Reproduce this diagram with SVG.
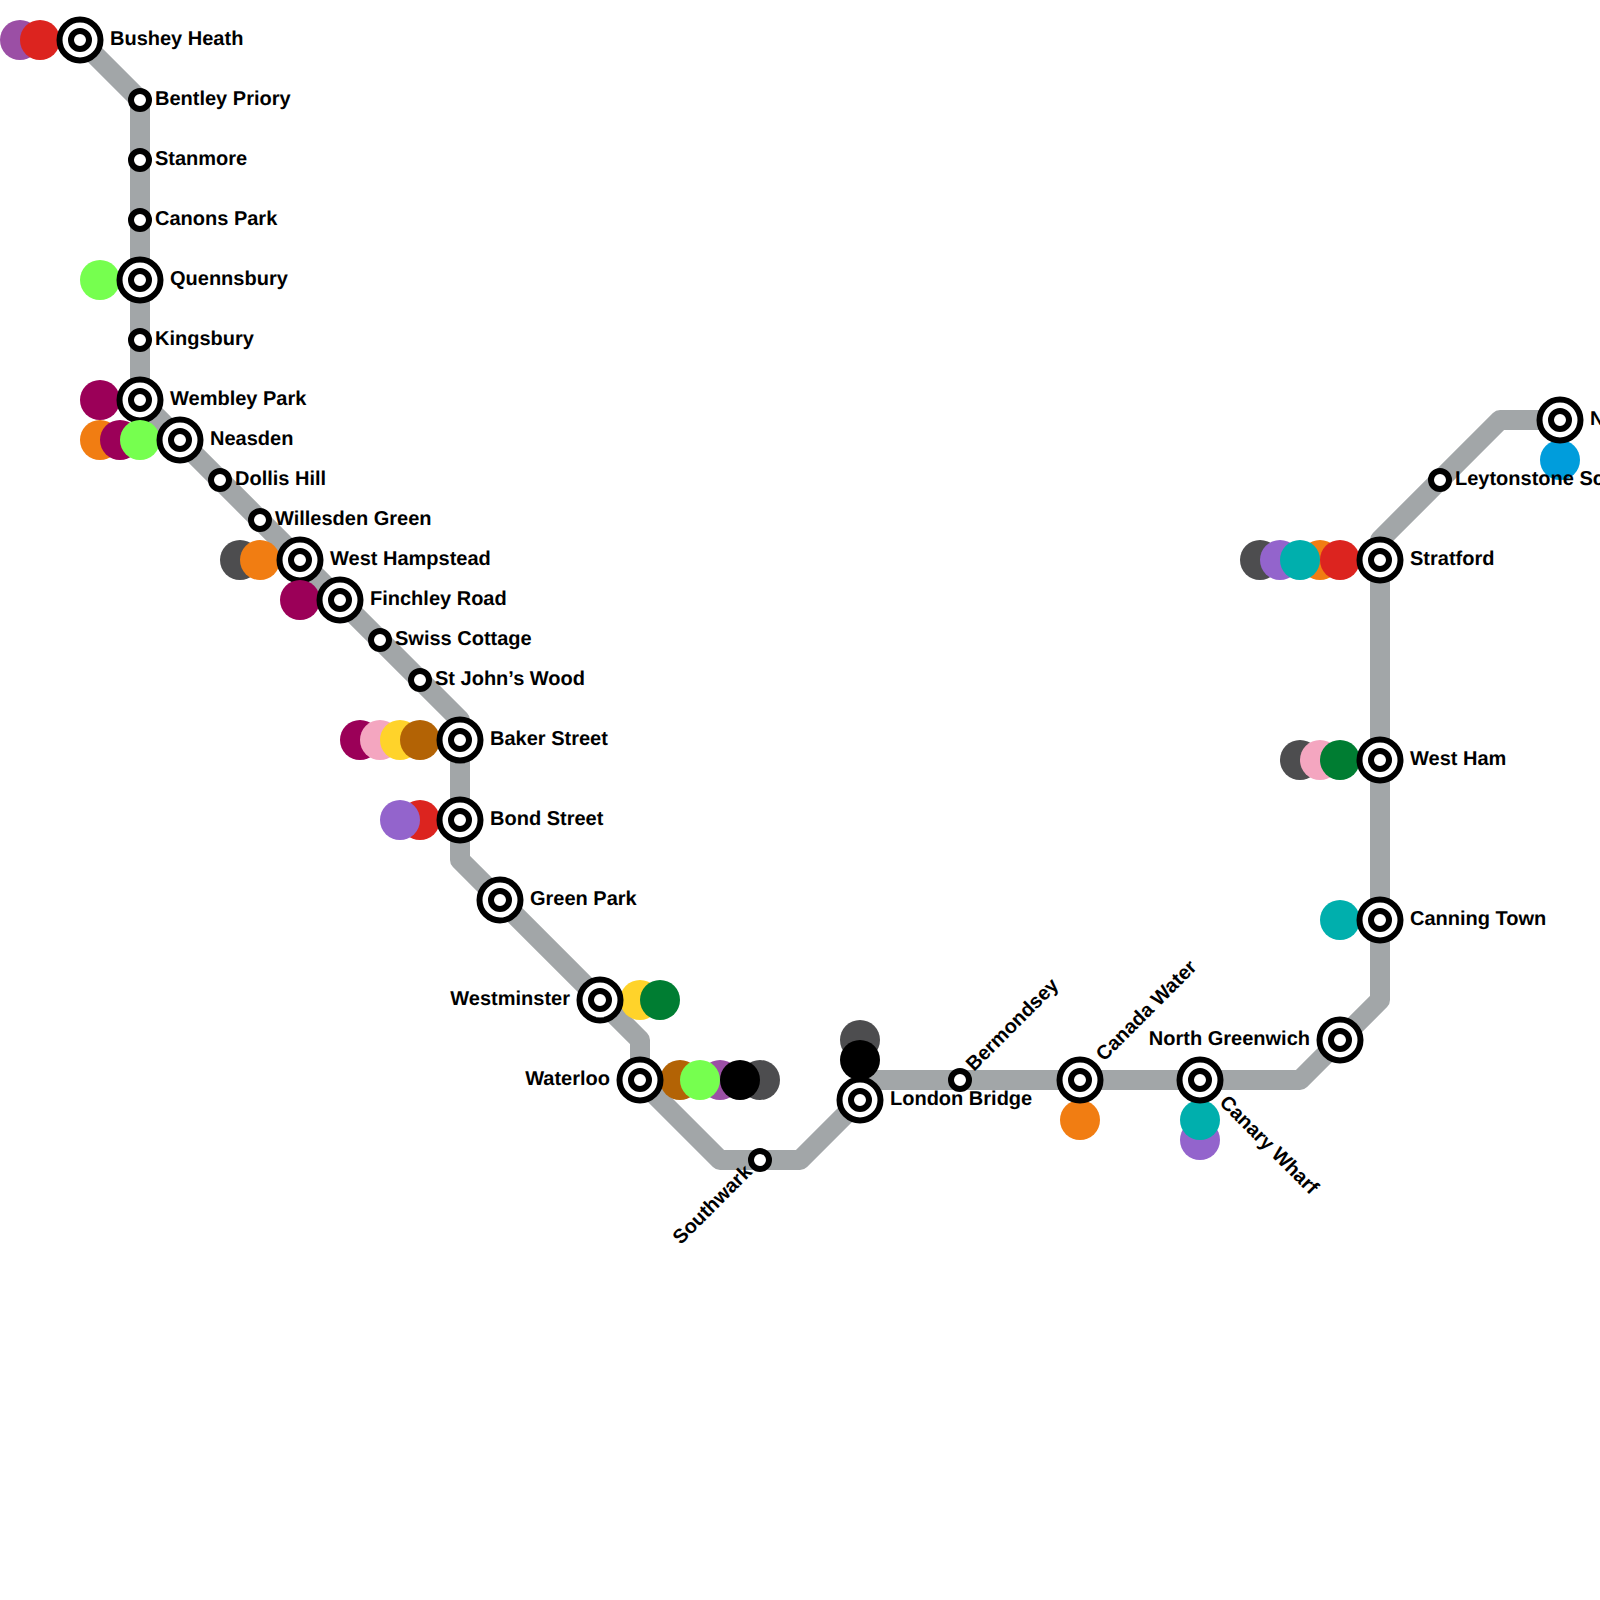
<svg xmlns="http://www.w3.org/2000/svg" width="1600" height="1600" viewBox="0 0 1600 1600">
<style>
.line{fill:none;stroke:#a2a6a8;stroke-width:20;stroke-linejoin:round}
.o{stroke:#000;stroke-width:6;fill:#fff}
.i{stroke:#000;stroke-width:6;fill:#fff}
text{font-family:"Liberation Sans",Arial,sans-serif;font-weight:700;font-size:20px;fill:#000;text-rendering:geometricPrecision}
.purple{fill:#9b4fa5}.red{fill:#dc241f}.lime{fill:#76ff4f}.mag{fill:#9b0058}.orange{fill:#f17d12}.dark{fill:#4d4d4f}.pink{fill:#f4a6c0}.yellow{fill:#ffd32a}.brown{fill:#b36305}.violet{fill:#9364cc}.green{fill:#007d32}.black{fill:#000}.teal{fill:#00afad}.blue{fill:#009ddc}
</style>
<defs>
<g id="big"><circle r="20.5" class="o"/><circle r="9" class="i"/></g>
<g id="small"><circle r="9" class="i"/></g>
</defs>
<rect width="1600" height="1600" fill="#fff"/>
<g id="connectors">
<path class="line" d="M80 40L140 100V400L460 720V860L640 1040V1080L720 1160H800L860 1100M860 1080H1300L1380 1000V540L1500 420H1560"/>
</g>
<g id="bushey-heath"><circle cx="20" cy="40" r="20" class="purple"/><circle cx="40" cy="40" r="20" class="red"/><use href="#big" x="80" y="40"/><text x="110" y="45">Bushey Heath</text></g>
<g id="bentley-priory"><use href="#small" x="140" y="100"/><text x="155" y="105">Bentley Priory</text></g>
<g id="stanmore"><use href="#small" x="140" y="160"/><text x="155" y="165">Stanmore</text></g>
<g id="canons-park"><use href="#small" x="140" y="220"/><text x="155" y="225">Canons Park</text></g>
<g id="quennsbury"><circle cx="100" cy="280" r="20" class="lime"/><use href="#big" x="140" y="280"/><text x="170" y="285">Quennsbury</text></g>
<g id="kingsbury"><use href="#small" x="140" y="340"/><text x="155" y="345">Kingsbury</text></g>
<g id="wembley-park"><circle cx="100" cy="400" r="20" class="mag"/><use href="#big" x="140" y="400"/><text x="170" y="405">Wembley Park</text></g>
<g id="neasden"><circle cx="100" cy="440" r="20" class="orange"/><circle cx="120" cy="440" r="20" class="mag"/><circle cx="140" cy="440" r="20" class="lime"/><use href="#big" x="180" y="440"/><text x="210" y="445">Neasden</text></g>
<g id="dollis-hill"><use href="#small" x="220" y="480"/><text x="235" y="485">Dollis Hill</text></g>
<g id="willesden-green"><use href="#small" x="260" y="520"/><text x="275" y="525">Willesden Green</text></g>
<g id="west-hampstead"><circle cx="240" cy="560" r="20" class="dark"/><circle cx="260" cy="560" r="20" class="orange"/><use href="#big" x="300" y="560"/><text x="330" y="565">West Hampstead</text></g>
<g id="finchley-road"><circle cx="300" cy="600" r="20" class="mag"/><use href="#big" x="340" y="600"/><text x="370" y="605">Finchley Road</text></g>
<g id="swiss-cottage"><use href="#small" x="380" y="640"/><text x="395" y="645">Swiss Cottage</text></g>
<g id="st-johns-wood"><use href="#small" x="420" y="680"/><text x="435" y="685">St John’s Wood</text></g>
<g id="baker-street"><circle cx="360" cy="740" r="20" class="mag"/><circle cx="380" cy="740" r="20" class="pink"/><circle cx="400" cy="740" r="20" class="yellow"/><circle cx="420" cy="740" r="20" class="brown"/><use href="#big" x="460" y="740"/><text x="490" y="745">Baker Street</text></g>
<g id="bond-street"><circle cx="420" cy="820" r="20" class="red"/><circle cx="400" cy="820" r="20" class="violet"/><use href="#big" x="460" y="820"/><text x="490" y="825">Bond Street</text></g>
<g id="green-park"><use href="#big" x="500" y="900"/><text x="530" y="905">Green Park</text></g>
<g id="westminster"><circle cx="640" cy="1000" r="20" class="yellow"/><circle cx="660" cy="1000" r="20" class="green"/><use href="#big" x="600" y="1000"/><text x="570" y="1005" text-anchor="end">Westminster</text></g>
<g id="waterloo"><circle cx="680" cy="1080" r="20" class="brown"/><circle cx="720" cy="1080" r="20" class="purple"/><circle cx="760" cy="1080" r="20" class="dark"/><circle cx="740" cy="1080" r="20" class="black"/><circle cx="700" cy="1080" r="20" class="lime"/><use href="#big" x="640" y="1080"/><text x="610" y="1085" text-anchor="end">Waterloo</text></g>
<g id="southwark"><use href="#small" x="760" y="1160"/><text transform="translate(753 1173) rotate(-45)" text-anchor="end">Southwark</text></g>
<g id="london-bridge"><circle cx="860" cy="1040" r="20" class="dark"/><circle cx="860" cy="1060" r="20" class="black"/><use href="#big" x="860" y="1100"/><text x="890" y="1105">London Bridge</text></g>
<g id="bermondsey"><use href="#small" x="960" y="1080"/><text transform="translate(974 1072) rotate(-45)">Bermondsey</text></g>
<g id="canada-water"><circle cx="1080" cy="1120" r="20" class="orange"/><use href="#big" x="1080" y="1080"/><text transform="translate(1104 1062) rotate(-45)">Canada Water</text></g>
<g id="canary-wharf"><circle cx="1200" cy="1140" r="20" class="violet"/><circle cx="1200" cy="1120" r="20" class="teal"/><use href="#big" x="1200" y="1080"/><text transform="translate(1218.5 1103.5) rotate(45)">Canary Wharf</text></g>
<g id="north-greenwich"><use href="#big" x="1340" y="1040"/><text x="1310" y="1045" text-anchor="end">North Greenwich</text></g>
<g id="canning-town"><circle cx="1340" cy="920" r="20" class="teal"/><use href="#big" x="1380" y="920"/><text x="1410" y="925">Canning Town</text></g>
<g id="west-ham"><circle cx="1300" cy="760" r="20" class="dark"/><circle cx="1320" cy="760" r="20" class="pink"/><circle cx="1340" cy="760" r="20" class="green"/><use href="#big" x="1380" y="760"/><text x="1410" y="765">West Ham</text></g>
<g id="stratford"><circle cx="1260" cy="560" r="20" class="dark"/><circle cx="1280" cy="560" r="20" class="violet"/><circle cx="1320" cy="560" r="20" class="orange"/><circle cx="1300" cy="560" r="20" class="teal"/><circle cx="1340" cy="560" r="20" class="red"/><use href="#big" x="1380" y="560"/><text x="1410" y="565">Stratford</text></g>
<g id="n-station"><circle cx="1560" cy="460" r="20" class="blue"/><use href="#big" x="1560" y="420"/><text x="1590" y="425">N</text></g>
<g id="leytonstone"><use href="#small" x="1440" y="480"/><text x="1455" y="485">Leytonstone Sc</text></g>
</svg>
